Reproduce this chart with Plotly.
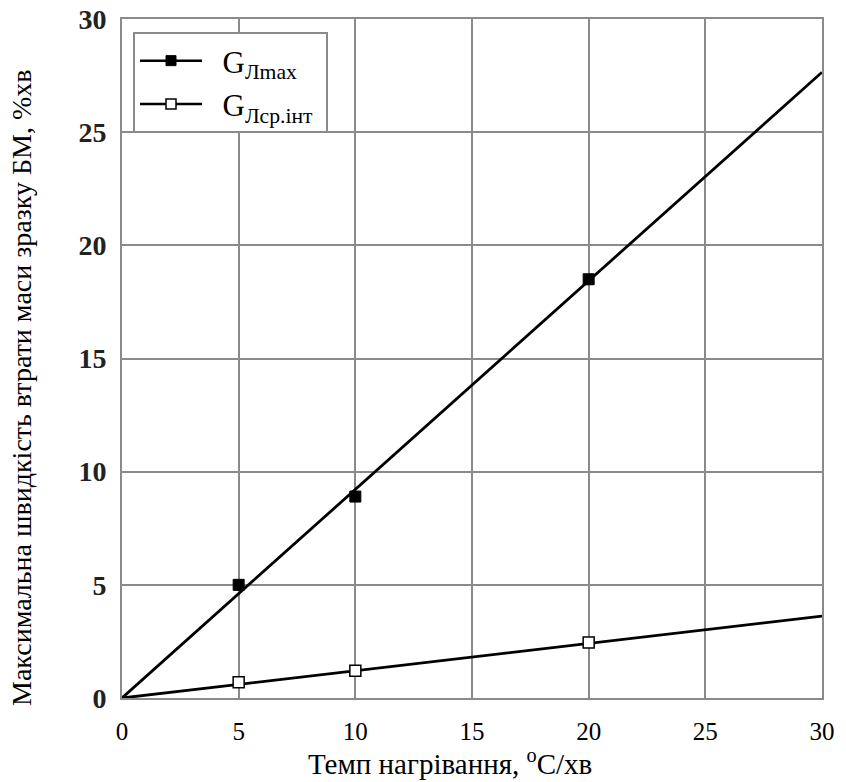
import plotly.graph_objects as go

# Data
rate_points = [5, 10, 20]
g_max_points = [5.0, 8.9, 18.5]
g_avg_points = [0.7, 1.2, 2.45]

fit_x = [0, 30]
g_max_fit = [0, 27.65]
g_avg_fit = [0, 3.62]

x_ticks = [0, 5, 10, 15, 20, 25, 30]
y_ticks = [0, 5, 10, 15, 20, 25, 30]

name_max = "&nbsp;&nbsp;G<sub>Лmax</sub>"
name_avg = "&nbsp;&nbsp;G<sub>Лср.інт</sub>&nbsp;"

serif = "Liberation Serif"

fig = go.Figure()

# fitted lines
fig.add_trace(go.Scatter(x=fit_x, y=g_max_fit, mode="lines",
                         line=dict(color="black", width=2.8), showlegend=False, hoverinfo="skip"))
fig.add_trace(go.Scatter(x=fit_x, y=g_avg_fit, mode="lines",
                         line=dict(color="black", width=2.8), showlegend=False, hoverinfo="skip"))
# measured points
fig.add_trace(go.Scatter(x=rate_points, y=g_max_points, mode="markers",
                         marker=dict(symbol="square", size=11, color="black",
                                     line=dict(color="black", width=1)),
                         showlegend=False))
fig.add_trace(go.Scatter(x=rate_points, y=g_avg_points, mode="markers",
                         marker=dict(symbol="square", size=11, color="white",
                                     line=dict(color="black", width=1.5)),
                         showlegend=False))
# legend entries
fig.add_trace(go.Scatter(x=[None], y=[None], mode="lines+markers", name=name_max,
                         line=dict(color="black", width=2.5),
                         marker=dict(symbol="square", size=10, color="black",
                                     line=dict(color="black", width=1))))
fig.add_trace(go.Scatter(x=[None], y=[None], mode="lines+markers", name=name_avg,
                         line=dict(color="black", width=2.5),
                         marker=dict(symbol="square", size=10, color="white",
                                     line=dict(color="black", width=1.5))))

grid = "#8a8a8a"

fig.update_xaxes(range=[0, 30], tickvals=x_ticks, showgrid=True, gridcolor=grid, gridwidth=2,
                 showline=True, linecolor=grid, linewidth=2, mirror=True, zeroline=False,
                 ticks="", ticklen=0, automargin=False, ticklabelstandoff=10,
                 ticklabeloverflow="allow",
                 tickfont=dict(family=serif, size=25, color="black"))
fig.update_yaxes(range=[0, 30], tickvals=y_ticks, showgrid=True, gridcolor=grid, gridwidth=2,
                 showline=True, linecolor=grid, linewidth=2, mirror=True, zeroline=False,
                 ticks="", ticklen=0, automargin=False, ticklabelstandoff=8,
                 ticklabeloverflow="allow",
                 tickfont=dict(family=serif, size=28, color="#222222", weight="bold"))

W, H = 846, 782
L, T, R, B = 122, 19, 24, 84
PW, PH = W - L - R, H - T - B

fig.update_layout(
    width=W, height=H,
    margin=dict(l=L, r=R, t=T, b=B, autoexpand=False),
    plot_bgcolor="white", paper_bgcolor="white",
    font=dict(family=serif, color="black"),
    legend=dict(x=(133 - L) / PW, y=1 - (32 - T) / PH,
                xanchor="left", yanchor="top",
                bgcolor="white", bordercolor=grid, borderwidth=2,
                font=dict(family=serif, size=31, color="black"),
                itemwidth=62, tracegroupgap=0),
    annotations=[
        dict(text="Темп нагрівання, <sup>o</sup>C/хв", xref="paper", yref="paper",
             x=(450 - L) / PW, y=-(782 - (H - B)) / PH,
             xanchor="center", yanchor="bottom",
             showarrow=False, font=dict(family=serif, size=29, color="black")),
        dict(text="Максимальна швидкість втрати маси зразку БМ, %хв", xref="paper", yref="paper",
             x=-(L - 21) / PW, y=(H - B - 388) / PH,
             xanchor="center", yanchor="middle", textangle=-90,
             showarrow=False, font=dict(family=serif, size=28, color="black")),
    ],
)

fig.write_html("out.html", config={"displayModeBar": False},
               post_script="document.body.style.margin='0';")
